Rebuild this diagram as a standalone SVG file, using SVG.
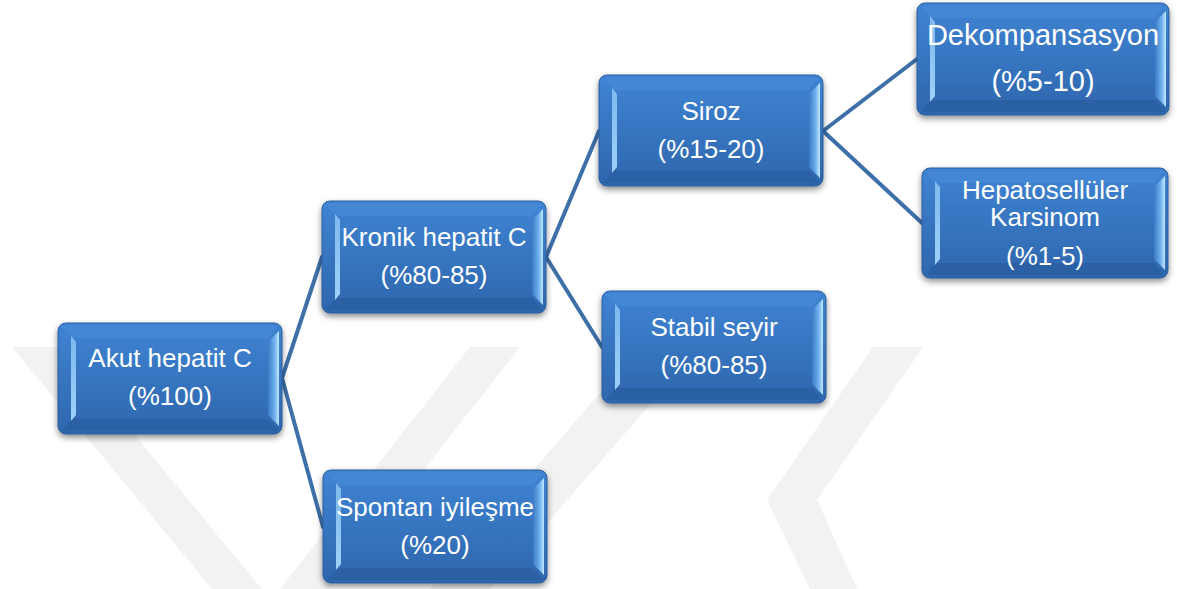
<svg xmlns="http://www.w3.org/2000/svg" width="1177" height="589" viewBox="0 0 1177 589">
<defs>
<style>
.wm{fill:#f2f2f2}
.box{fill:url(#face);stroke:#2b5d9c;stroke-width:1}
.top{fill:#4a8cd8;opacity:.55}
.bot{fill:#2a5d9f;opacity:.7}
.lf{fill:url(#lfg)}
.rf{fill:url(#rfg)}
.t{font-family:"Liberation Sans",Arial,sans-serif;font-size:26px;fill:#fff;text-anchor:middle}
.conn line{stroke:#3d6fa8;stroke-width:4;stroke-linecap:round}
</style>
<linearGradient id="face" x1="0" y1="0" x2="0" y2="1">
<stop offset="0" stop-color="#3f84d3"/>
<stop offset="1" stop-color="#2e66ad"/>
</linearGradient>
<linearGradient id="lfg" x1="0" y1="0" x2="0" y2="1">
<stop offset="0" stop-color="#7fb9ee"/>
<stop offset="1" stop-color="#9fd0f8"/>
</linearGradient>
<linearGradient id="rfg" x1="0" y1="0" x2="1" y2="0">
<stop offset="0" stop-color="#3a7bc8"/>
<stop offset="0.6" stop-color="#6fb0ec"/>
<stop offset="1" stop-color="#c3e8ff"/>
</linearGradient>
<filter id="sh" x="-10%" y="-10%" width="120%" height="130%">
<feDropShadow dx="0" dy="3" stdDeviation="3" flood-color="#000" flood-opacity="0.45"/>
</filter>
</defs>
<rect width="1177" height="589" fill="#fff"/>
<g id="watermark">
<polygon class="wm" points="12,347 62,347 262,589 212,589"/>
<polygon class="wm" points="470,347 520,347 330,589 280,589"/>
<polygon class="wm" points="640,347 700,347 490,589 430,589"/>
<polygon class="wm" points="873,347 923,347 817,500 857,589 810,589 767,500"/>
</g>
<g class="conn" id="connectors">
<line x1="282" y1="378" x2="322" y2="257"/>
<line x1="282" y1="378" x2="323" y2="527"/>
<line x1="546" y1="257" x2="599" y2="131"/>
<line x1="546" y1="257" x2="602" y2="347"/>
<line x1="823" y1="131" x2="917" y2="59"/>
<line x1="823" y1="131" x2="922" y2="223"/>
</g>
<g id="akut" transform="translate(58,323)">
<rect class="box" width="224" height="111" rx="8" filter="url(#sh)"/>
<polygon class="top" points="4,3 220,3 210,15 14,15"/>
<polygon class="bot" points="14,96 210,96 220,108 4,108"/>
<polygon class="lf" points="13,13 18,19 18,92 13,98"/>
<polygon class="rf" points="210,19 221,8 221,103 210,92"/>
<text class="t" x="112" y="44">Akut hepatit C</text>
<text class="t" x="112" y="82">(%100)</text>
</g>
<g id="kronik" transform="translate(322,201)">
<rect class="box" width="224" height="112" rx="8" filter="url(#sh)"/>
<polygon class="top" points="4,3 220,3 210,15 14,15"/>
<polygon class="bot" points="14,97 210,97 220,109 4,109"/>
<polygon class="lf" points="13,13 18,19 18,93 13,99"/>
<polygon class="rf" points="210,19 221,8 221,104 210,93"/>
<text class="t" x="112" y="45">Kronik hepatit C</text>
<text class="t" x="112" y="83">(%80-85)</text>
</g>
<g id="spontan" transform="translate(323,470)">
<rect class="box" width="224" height="113" rx="8" filter="url(#sh)"/>
<polygon class="top" points="4,3 220,3 210,15 14,15"/>
<polygon class="bot" points="14,98 210,98 220,110 4,110"/>
<polygon class="lf" points="13,13 18,19 18,94 13,100"/>
<polygon class="rf" points="210,19 221,8 221,105 210,94"/>
<text class="t" x="112" y="46">Spontan iyileşme</text>
<text class="t" x="112" y="84">(%20)</text>
</g>
<g id="siroz" transform="translate(599,75)">
<rect class="box" width="224" height="111" rx="8" filter="url(#sh)"/>
<polygon class="top" points="4,3 220,3 210,15 14,15"/>
<polygon class="bot" points="14,96 210,96 220,108 4,108"/>
<polygon class="lf" points="13,13 18,19 18,92 13,98"/>
<polygon class="rf" points="210,19 221,8 221,103 210,92"/>
<text class="t" x="112" y="45">Siroz</text>
<text class="t" x="112" y="83">(%15-20)</text>
</g>
<g id="stabil" transform="translate(602,291)">
<rect class="box" width="224" height="112" rx="8" filter="url(#sh)"/>
<polygon class="top" points="4,3 220,3 210,15 14,15"/>
<polygon class="bot" points="14,97 210,97 220,109 4,109"/>
<polygon class="lf" points="13,13 18,19 18,93 13,99"/>
<polygon class="rf" points="210,19 221,8 221,104 210,93"/>
<text class="t" x="112" y="45">Stabil seyir</text>
<text class="t" x="112" y="83">(%80-85)</text>
</g>
<g id="dekompansasyon" transform="translate(917,3)">
<rect class="box" width="252" height="112" rx="8" filter="url(#sh)"/>
<polygon class="top" points="4,3 248,3 238,15 14,15"/>
<polygon class="bot" points="14,97 238,97 248,109 4,109"/>
<polygon class="lf" points="13,13 18,19 18,93 13,99"/>
<polygon class="rf" points="238,19 249,8 249,104 238,93"/>
<text class="t" x="126" y="42" style="font-size:29px">Dekompansasyon</text>
<text class="t" x="126" y="88" style="font-size:29px">(%5-10)</text>
</g>
<g id="hepatosellular" transform="translate(922,168)">
<rect class="box" width="246" height="110" rx="8" filter="url(#sh)"/>
<polygon class="top" points="4,3 242,3 232,15 14,15"/>
<polygon class="bot" points="14,95 232,95 242,107 4,107"/>
<polygon class="lf" points="13,13 18,19 18,91 13,97"/>
<polygon class="rf" points="232,19 243,8 243,102 232,91"/>
<text class="t" x="123" y="31">Hepatosellüler</text>
<text class="t" x="123" y="58">Karsinom</text>
<text class="t" x="123" y="97">(%1-5)</text>
</g>
</svg>
